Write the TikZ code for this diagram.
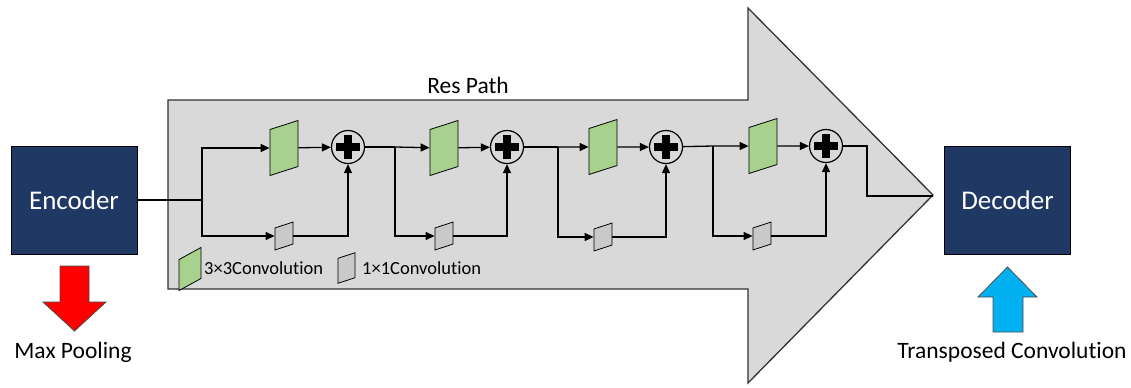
\documentclass[tikz,border=0pt]{standalone}
\usepackage{fontspec}
\setmainfont[Ligatures=NoCommon]{Carlito}
\usetikzlibrary{arrows.meta}
\usetikzlibrary{calc}

\definecolor{navy}{HTML}{1F3864}
\definecolor{pathgray}{HTML}{D9D9D9}
\definecolor{convgreen}{HTML}{A9D18E}
\definecolor{convgray}{HTML}{C9C9C9}
\definecolor{poolred}{HTML}{FF0000}
\definecolor{upblue}{HTML}{00B0F0}

\tikzset{
    block/.style = {draw=black, line width=0.8bp, fill=navy, text=white, inner sep=0,
                    minimum width=126bp, minimum height=108bp,
                    font=\fontsize{27bp}{32bp}\selectfont},
    conv/.style  = {draw=black, line width=0.8bp, fill=convgreen, inner sep=0,
                    minimum width=28bp, minimum height=46bp, yslant=0.32},
    pconv/.style = {draw=black, line width=0.8bp, fill=convgray, inner sep=0,
                    minimum width=18bp, minimum height=22bp, yslant=0.33},
    adder/.style = {circle, draw=black, line width=1.2bp, minimum size=33bp, inner sep=0,
                    path picture={
                        \draw[line width=8bp] ([xshift=-12bp]path picture bounding box.center)
                            -- ([xshift=12bp]path picture bounding box.center);
                        \draw[line width=8bp] ([yshift=-12bp]path picture bounding box.center)
                            -- ([yshift=12bp]path picture bounding box.center);
                    }},
    wire/.style  = {line width=1.3bp},
    flow/.style  = {line width=1.3bp, -{Triangle[length=9bp,width=8bp]}},
    caption/.style = {font=\fontsize{23.5bp}{28bp}\selectfont, inner sep=0},
    legend/.style  = {font=\fontsize{18.5bp}{22bp}\selectfont, inner sep=0, anchor=west},
}

\begin{document}
\begin{tikzpicture}[x=1bp, y=1bp]
    \useasboundingbox (0,0) rectangle (1131,-387);

    % res path arrow
    \filldraw[fill=pathgray, draw=black!80, line width=1.3bp]
        (168,-100) -- (748,-100) -- (748,-8) -- (933,-195) -- (748,-383) -- (748,-289) -- (168,-289) -- cycle;
    \coordinate (tip) at (933,-196);
    \node[caption] (respath) at (468,-85) {Res Path};

    % encoder / decoder
    \node[block] (enc) at (74,-200) {Encoder};
    \node[block] (dec) at (1007.5,-200.5) {Decoder};

    % pooling and upsampling arrows
    \filldraw[fill=poolred, draw=black!70, line width=0.8bp]
        (60,-266) -- (89,-266) -- (89,-302) -- (106,-302) -- (74.5,-331) -- (43,-302) -- (60,-302) -- cycle;
    \filldraw[fill=upblue, draw=black!70, line width=0.8bp]
        (993,-332) -- (1023,-332) -- (1023,-297) -- (1037,-297) -- (1007.5,-267) -- (978,-297) -- (993,-297) -- cycle;
    \node[caption] (maxpool) at (73,-352) {Max Pooling};
    \node[caption] (transconv) at (1012,-352) {Transposed Convolution};

    % residual blocks
    \node[conv]  (g1) at (284,-148) {};
    \node[pconv] (c1) at (284,-236) {};
    \node[adder] (p1) at (348,-147) {};

    \node[conv]  (g2) at (444,-148) {};
    \node[pconv] (c2) at (444,-236) {};
    \node[adder] (p2) at (507,-147) {};

    \node[conv]  (g3) at (603,-147) {};
    \node[pconv] (c3) at (603,-237) {};
    \node[adder] (p3) at (666,-147) {};

    \node[conv]  (g4) at (763,-146) {};
    \node[pconv] (c4) at (762,-236) {};
    \node[adder] (p4) at (826,-146) {};

    \coordinate (s1) at (202,-200);
    \coordinate (s2) at (395,-147);
    \coordinate (s3) at (558,-147);
    \coordinate (s4) at (713,-146);
    \coordinate (bend) at (867,-146);

    % wiring
    \draw[wire] (enc.east) -- (s1);
    \draw[flow] (s1) |- (g1);
    \draw[flow] (s1) |- (c1);
    \draw[flow] (g1) -- (p1);
    \draw[flow] (c1) -| (p1);

    \draw[wire] (p1) -- (s2);
    \draw[flow] (s2) -- (g2);
    \draw[flow] (s2) |- (c2);
    \draw[flow] (g2) -- (p2);
    \draw[flow] (c2) -| (p2);

    \draw[wire] (p2) -- (s3);
    \draw[flow] (s3) -- (g3);
    \draw[flow] (s3) |- (c3);
    \draw[flow] (g3) -- (p3);
    \draw[flow] (c3) -| (p3);

    \draw[wire] (p3) -- (s4);
    \draw[flow] (s4) -- (g4);
    \draw[flow] (s4) |- (c4);
    \draw[flow] (g4) -- (p4);
    \draw[flow] (c4) -| (p4);

    \draw[wire] (p4) -- (bend) |- (tip);

    % legend
    \node[conv, minimum width=22bp, minimum height=31bp, yslant=0.23] (lg) at (190,-269) {};
    \node[legend] (lgtext) at (204,-268) {3×3Convolution};
    \node[pconv, minimum width=17bp, minimum height=25bp] (lc) at (346.5,-268) {};
    \node[legend] (lctext) at (362,-268) {1×1Convolution};
\end{tikzpicture}
\end{document}
